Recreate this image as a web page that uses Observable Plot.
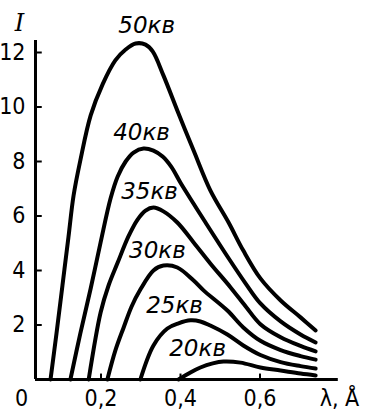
<!DOCTYPE html>
<html><head><meta charset="utf-8">
<script src="https://cdn.jsdelivr.net/npm/d3@7"></script>
<script src="https://cdn.jsdelivr.net/npm/@observablehq/plot@0.6"></script>
<style>body{margin:0;background:#fff}</style>
</head><body><div id="chart"></div>
<script>
const voltages = ["50кв", "40кв", "35кв", "30кв", "25кв", "20кв"];

const lambda50 = [0.073, 0.088, 0.103, 0.118, 0.131, 0.148, 0.174, 0.204, 0.236, 0.262, 0.287, 0.312, 0.330, 0.357, 0.395, 0.433, 0.475, 0.521, 0.558, 0.601, 0.652, 0.702, 0.740];
const int50    = [0,     1.69,  3.45,  5.21,  6.75,  8.04,  9.69,  10.83, 11.71, 12.11, 12.33, 12.29, 12.04, 11.16, 9.76,  8.40,  6.94,  5.76,  4.73,  3.71,  2.90,  2.28,  1.80];

const lambda40 = [0.123, 0.148, 0.174, 0.199, 0.224, 0.242, 0.262, 0.282, 0.307, 0.332, 0.355, 0.377, 0.400, 0.433, 0.463, 0.521, 0.564, 0.601, 0.652, 0.702, 0.740];
const int40    = [0,     1.69,  3.34,  5.03,  6.64,  7.45,  8.00,  8.33,  8.48,  8.40,  8.18,  7.80,  7.22,  6.45,  5.76,  4.45,  3.52,  2.79,  2.13,  1.65,  1.36];

const lambda35 = [0.169, 0.199, 0.219, 0.242, 0.269, 0.292, 0.312, 0.332, 0.357, 0.392, 0.433, 0.475, 0.526, 0.564, 0.601, 0.652, 0.702, 0.740];
const int35    = [0,     2.46,  3.45,  4.29,  5.25,  5.87,  6.20,  6.31,  6.17,  5.76,  5.03,  4.26,  3.38,  2.68,  2.03,  1.55,  1.23,  1.03];

const lambda30 = [0.216, 0.236, 0.257, 0.277, 0.299, 0.332, 0.357, 0.392, 0.433, 0.458, 0.518, 0.558, 0.601, 0.652, 0.702, 0.740];
const int30    = [0,     1.06,  1.91,  2.68,  3.30,  4.00,  4.18,  4.11,  3.63,  3.27,  2.53,  1.91,  1.42,  1.08,  0.86,  0.73];

const lambda25 = [0.299, 0.332, 0.367, 0.395, 0.425, 0.450, 0.475, 0.518, 0.558, 0.601, 0.652, 0.702, 0.740];
const int25    = [0,     1.25,  1.87,  2.06,  2.17,  2.13,  1.98,  1.65,  1.25,  0.90,  0.64,  0.49,  0.40];

const lambda20 = [0.395, 0.425, 0.450, 0.481, 0.508, 0.551, 0.601, 0.652, 0.702, 0.740];
const int20    = [0,     0.26,  0.44,  0.59,  0.66,  0.62,  0.44,  0.33,  0.22,  0.15];

// Where each voltage label sits (data units)
const labelLambda    = [0.315, 0.302, 0.322, 0.342, 0.385, 0.443];
const labelIntensity = [13.0,  9.06,  6.90,  4.73,  2.72,  1.14];

// Axis ticks and titles
const yTicks = [2, 4, 6, 8, 10, 12];
const xTicks = [0.2, 0.4, 0.6];
const xTitleAt = 0.8;
const xAxisTitle = "λ, Å";
const yAxisTitle = "I";
const originLabel = "0";

// Axis geometry (data units)
const axisOrigin = 0.0352;
const xAxisEnd = 0.797;
const yAxisTop = 12.44;

const seriesX = [lambda50, lambda40, lambda35, lambda30, lambda25, lambda20];
const seriesY = [int50, int40, int35, int30, int25, int20];
const rows = voltages.flatMap((kv, i) => seriesX[i].map((l, j) => ({kv, lambda: l, I: seriesY[i][j]})));
const labels = voltages.map((kv, i) => ({kv, lambda: labelLambda[i], I: labelIntensity[i]}));

const tickFont = "'Liberation Sans Narrow', 'DejaVu Sans Condensed', sans-serif";
const fmt = d => d === xTitleAt ? xAxisTitle : d.toFixed(1).replace(".", ",");

const chart = Plot.plot({
  width: 379,
  height: 419,
  marginLeft: 35,
  marginRight: 40,
  marginTop: 52,
  marginBottom: 40,
  style: {background: "#fff", color: "#000", fontFamily: tickFont, fontSize: "23px", overflow: "visible"},
  x: {domain: [axisOrigin, 0.8]},
  y: {domain: [0, 12]},
  marks: [
    Plot.axisY({ticks: yTicks, tickSize: 0, tickPadding: 10, label: null, fontSize: 23}),
    Plot.axisX({ticks: [...xTicks, xTitleAt], tickFormat: fmt, tickSize: 0, tickPadding: 10, label: null, fontSize: 23}),
    Plot.text([originLabel], {x: 0, y: 0, text: d => d, lineAnchor: "top", dy: 10, fontSize: 23}),
    Plot.text([yAxisTitle], {frameAnchor: "top-left", text: d => d, textAnchor: "middle", lineAnchor: "middle", dx: -16, dy: -29, fontStyle: "italic", fontSize: 24, fontFamily: "'DejaVu Serif', serif"}),
    Plot.ruleX([axisOrigin], {x: d => d, y1: 0, y2: yAxisTop, stroke: "#000", strokeWidth: 3}),
    Plot.ruleY([0], {y: d => d, x1: axisOrigin, x2: xAxisEnd, stroke: "#000", strokeWidth: 3}),
    Plot.ruleY(yTicks, {y: d => d, x1: axisOrigin, x2: axisOrigin + 0.017, stroke: "#000", strokeWidth: 2}),
    Plot.ruleX(xTicks, {x: d => d, y1: 0, y2: 0.2, stroke: "#000", strokeWidth: 2}),
    Plot.line(rows, {x: "lambda", y: "I", z: "kv", curve: "catmull-rom", stroke: "#000", strokeWidth: 4}),
    Plot.text(labels, {x: "lambda", y: "I", text: "kv", fontStyle: "italic", fontSize: 23, fontFamily: "'DejaVu Sans', sans-serif", fill: "#000"})
  ]
});
document.getElementById("chart").appendChild(chart);
</script>
</body></html>
